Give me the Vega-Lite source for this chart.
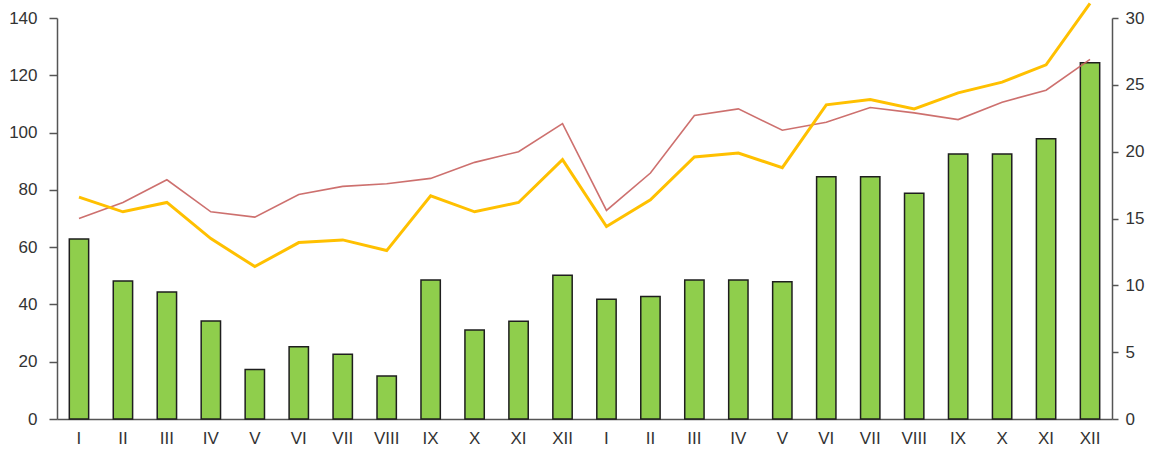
{
  "$schema": "https://vega.github.io/schema/vega-lite/v6.json",
  "autosize": {"type": "none"},
  "width": 1055,
  "height": 401,
  "padding": {"left": 57, "top": 18, "right": 38, "bottom": 32},
  "background": "white",
  "config": {
    "view": {"stroke": null},
    "axis": {"labelFont": "Liberation Sans", "labelFontSize": 17, "labelColor": "#333333", "domainColor": "#555555", "tickColor": "#555555", "grid": false, "title": null}
  },
  "data": {
    "values": [
      {"n": 1, "month": "I", "bar": 62.8, "yellow": 16.6, "red": 15.0},
      {"n": 2, "month": "II", "bar": 48.2, "yellow": 15.5, "red": 16.2},
      {"n": 3, "month": "III", "bar": 44.3, "yellow": 16.2, "red": 17.9},
      {"n": 4, "month": "IV", "bar": 34.2, "yellow": 13.5, "red": 15.5},
      {"n": 5, "month": "V", "bar": 17.3, "yellow": 11.4, "red": 15.1},
      {"n": 6, "month": "VI", "bar": 25.2, "yellow": 13.2, "red": 16.8},
      {"n": 7, "month": "VII", "bar": 22.6, "yellow": 13.4, "red": 17.4},
      {"n": 8, "month": "VIII", "bar": 15.0, "yellow": 12.6, "red": 17.6},
      {"n": 9, "month": "IX", "bar": 48.5, "yellow": 16.7, "red": 18.0},
      {"n": 10, "month": "X", "bar": 31.1, "yellow": 15.5, "red": 19.2},
      {"n": 11, "month": "XI", "bar": 34.1, "yellow": 16.2, "red": 20.0},
      {"n": 12, "month": "XII", "bar": 50.2, "yellow": 19.4, "red": 22.1},
      {"n": 13, "month": "I", "bar": 41.8, "yellow": 14.4, "red": 15.6},
      {"n": 14, "month": "II", "bar": 42.8, "yellow": 16.4, "red": 18.4},
      {"n": 15, "month": "III", "bar": 48.5, "yellow": 19.6, "red": 22.7},
      {"n": 16, "month": "IV", "bar": 48.5, "yellow": 19.9, "red": 23.2},
      {"n": 17, "month": "V", "bar": 47.9, "yellow": 18.8, "red": 21.6},
      {"n": 18, "month": "VI", "bar": 84.6, "yellow": 23.5, "red": 22.2},
      {"n": 19, "month": "VII", "bar": 84.6, "yellow": 23.9, "red": 23.3},
      {"n": 20, "month": "VIII", "bar": 78.8, "yellow": 23.2, "red": 22.9},
      {"n": 21, "month": "IX", "bar": 92.5, "yellow": 24.4, "red": 22.4},
      {"n": 22, "month": "X", "bar": 92.5, "yellow": 25.2, "red": 23.7},
      {"n": 23, "month": "XI", "bar": 97.8, "yellow": 26.5, "red": 24.6},
      {"n": 24, "month": "XII", "bar": 124.4, "yellow": 31.1, "red": 26.9}
    ]
  },
  "encoding": {
    "x": {
      "field": "n",
      "type": "ordinal",
      "scale": {"paddingInner": 0.56, "paddingOuter": 0.28},
      "axis": {
        "labelAngle": 0,
        "ticks": false,
        "tickSize": 0,
        "labelPadding": 11,
        "domainWidth": 1.5,
        "labelExpr": "['I','II','III','IV','V','VI','VII','VIII','IX','X','XI','XII'][(datum.value - 1) % 12]"
      }
    }
  },
  "layer": [
    {
      "mark": {"type": "bar", "color": "#8fce4c", "stroke": "#1e1e1e", "strokeWidth": 1.5, "clip": false},
      "encoding": {
        "y": {
          "field": "bar",
          "type": "quantitative",
          "scale": {"domain": [0, 140], "nice": false},
          "axis": {"orient": "left", "values": [0, 20, 40, 60, 80, 100, 120, 140], "tickSize": 8, "tickWidth": 1.5, "domainWidth": 1.5, "labelPadding": 12}
        }
      }
    },
    {
      "layer": [
        {
          "mark": {"type": "line", "color": "#c8605e", "strokeWidth": 1.6, "opacity": 0.9, "clip": false},
          "encoding": {
            "y": {
              "field": "red",
              "type": "quantitative",
              "scale": {"domain": [0, 30], "nice": false},
              "axis": {"orient": "right", "values": [0, 5, 10, 15, 20, 25, 30], "tickSize": 6, "tickWidth": 1.5, "domainWidth": 1.5, "labelPadding": 7}
            }
          }
        },
        {
          "mark": {"type": "line", "color": "#ffc000", "strokeWidth": 3, "clip": false},
          "encoding": {
            "y": {"field": "yellow", "type": "quantitative"}
          }
        }
      ]
    }
  ],
  "resolve": {"scale": {"y": "independent"}}
}
